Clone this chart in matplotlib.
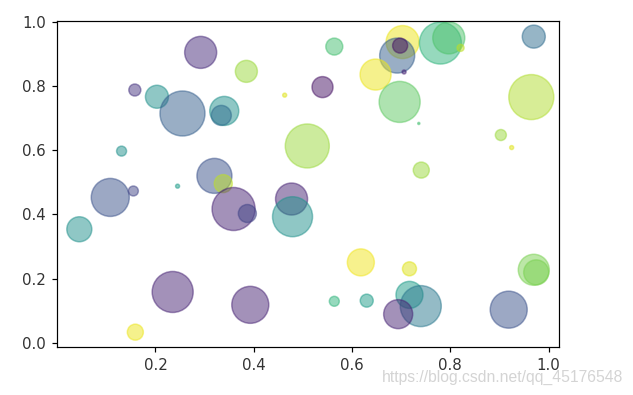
import matplotlib
matplotlib.use('Agg')
import matplotlib.pyplot as plt
import numpy as np

# bubble data (x, y, colour value, marker area in pt^2)
x = [0.292, 0.385, 0.158, 0.203, 0.255, 0.340, 0.334, 0.463, 0.131, 0.509,
     0.564, 0.703, 0.692, 0.698, 0.706, 0.648, 0.540, 0.697, 0.780, 0.797,
     0.821, 0.970, 0.965, 0.903, 0.925, 0.741, 0.736, 0.108, 0.155, 0.245,
     0.320, 0.338, 0.359, 0.387, 0.477, 0.479, 0.045, 0.235, 0.393, 0.159,
     0.618, 0.717, 0.564, 0.630, 0.717, 0.740, 0.694, 0.919, 0.970, 0.975]
y = [0.904, 0.845, 0.787, 0.766, 0.714, 0.722, 0.708, 0.771, 0.597, 0.613,
     0.922, 0.936, 0.894, 0.925, 0.843, 0.835, 0.796, 0.750, 0.933, 0.949,
     0.918, 0.953, 0.765, 0.647, 0.608, 0.538, 0.683, 0.453, 0.473, 0.488,
     0.520, 0.496, 0.417, 0.403, 0.448, 0.393, 0.354, 0.159, 0.119, 0.034,
     0.251, 0.231, 0.130, 0.132, 0.150, 0.115, 0.090, 0.104, 0.228, 0.220]
colors = [0.12, 0.85, 0.15, 0.50, 0.30, 0.50, 0.35, 0.95, 0.50, 0.85,
          0.70, 0.97, 0.30, 0.05, 0.10, 0.97, 0.05, 0.75, 0.65, 0.72,
          0.90, 0.35, 0.88, 0.85, 0.95, 0.85, 0.70, 0.25, 0.20, 0.55,
          0.25, 0.90, 0.10, 0.20, 0.10, 0.50, 0.50, 0.10, 0.10, 0.97,
          0.98, 0.95, 0.65, 0.55, 0.55, 0.40, 0.10, 0.25, 0.80, 0.80]
area = [455, 215, 64, 235, 900, 374, 178, 7, 44, 860,
        128, 484, 544, 100, 7, 427, 196, 747, 784, 455,
        22, 235, 900, 54, 7, 114, 2, 642, 44, 7,
        544, 144, 822, 144, 455, 711, 278, 747, 608, 114,
        324, 87, 44, 75, 324, 747, 374, 608, 427, 278]

fig = plt.figure(figsize=(633 / 108, 395 / 108), dpi=108)
ax = fig.add_axes([0.0896, 0.1208, 0.794, 0.8272])
ax.scatter(x, y, s=area, c=colors, cmap='viridis', vmin=0, vmax=1, alpha=0.5)
ax.set_xlim(-0.001, 1.022)
ax.set_ylim(-0.013, 1.003)
ax.set_xticks([0.2, 0.4, 0.6, 0.8, 1.0])
ax.set_yticks([0.0, 0.2, 0.4, 0.6, 0.8, 1.0])
ax.tick_params(labelsize=10, colors='#333333')
ax.tick_params(color='black')

# watermark
fig.text(0.984, 0.034, 'https://blog.csdn.net/qq_45176548', ha='right', va='baseline',
         fontsize=10.5, family='Liberation Sans', color='#d4d4d4')

fig.savefig('out.png', dpi=108)
